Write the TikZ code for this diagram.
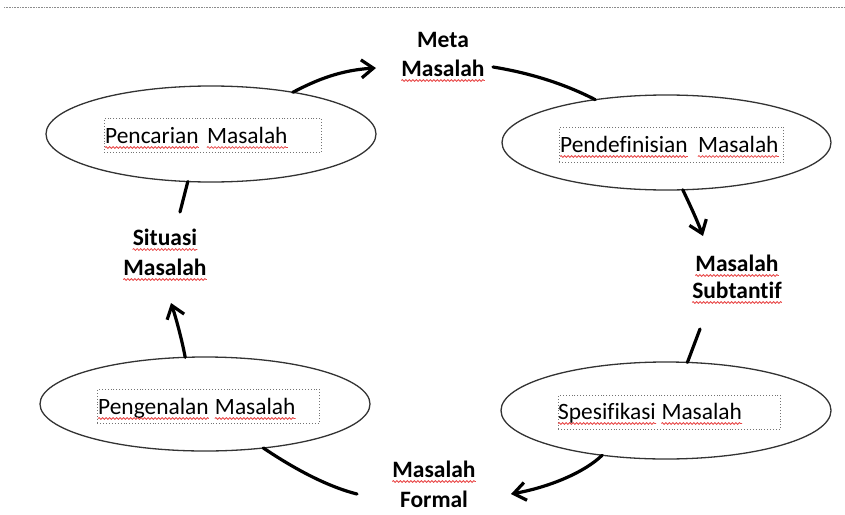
\documentclass[tikz,border=0pt]{standalone}
\usepackage{fontspec}
\setmainfont[Ligatures=NoCommon]{Carlito}
\usetikzlibrary{shapes.geometric,arrows.meta,decorations.pathmorphing}
\definecolor{spellred}{RGB}{232,70,70}
% red wavy spell-check underline below a word node
\newcommand\spellmark[1]{\draw[wave] ([yshift=-4.5pt]#1.base west) -- ([yshift=-4.5pt]#1.base east);}
\begin{document}
\begin{tikzpicture}[x=1pt,y=-1pt,
  bubble/.style={ellipse, draw=black!80, line width=1.3pt, inner sep=0pt, outer sep=0pt},
  tbox/.style={draw=black!55, dotted, line width=0.9pt, inner sep=0pt, anchor=north west},
  body/.style={font=\fontsize{23.4}{28}\selectfont, inner sep=0pt, anchor=base west},
  tag/.style={font=\fontsize{23.5}{29}\selectfont\bfseries, inner sep=0pt, anchor=base},
  rule/.style={draw=black!45, line width=1.2pt, dash pattern=on 0.8pt off 0.8pt},
  wave/.style={draw=spellred, line width=0.8pt, decorate,
    decoration={snake, segment length=3.5pt, amplitude=0.9pt}},
  flow/.style={line width=3.2pt, line cap=round},
  tip/.style={flow, -{Straight Barb[length=12pt,width=18pt]}},
]
\useasboundingbox (0,0) rectangle (845,514);

% dotted rule along the top
\coordinate (r0) at (4,7.5);
\coordinate (r1) at (845,7.5);
\draw[rule] (r0) -- (r1);

% the four stages
\node[bubble, minimum width=330pt, minimum height=96pt] (e1) at (211,134) {};
\node[bubble, minimum width=329pt, minimum height=95pt] (e2) at (666.5,142.5) {};
\node[bubble, minimum width=330pt, minimum height=94pt] (e3) at (205,404) {};
\node[bubble, minimum width=330pt, minimum height=97pt] (e4) at (666,410.5) {};

% text frames
\node[tbox, minimum width=217pt, minimum height=34pt] (b1) at (104,118) {};
\node[tbox, minimum width=224pt, minimum height=35pt] (b2) at (559,127) {};
\node[tbox, minimum width=222pt, minimum height=34pt] (b3) at (97,389) {};
\node[tbox, minimum width=222pt, minimum height=34pt] (b4) at (558,395) {};

% stage names, one node per word
\node[body] (p1a) at (105,143) {Pencarian};
\node[body] (p1b) at ([xshift=8pt]p1a.base east) {Masalah};
\node[body] (p2a) at (560,152) {Pendefinisian};
\node[body] (p2b) at ([xshift=10pt]p2a.base east) {Masalah};
\node[body] (p3a) at (98,414) {Pengenalan};
\node[body] (p3b) at ([xshift=6pt]p3a.base east) {Masalah};
\node[body] (p4a) at (558,419) {Spesifikasi};
\node[body] (p4b) at ([xshift=5.2pt]p4a.base east) {Masalah};

% labels between the stages
\node[tag] (m1a) at (443,47) {Meta};
\node[tag] (m1b) at (443,76) {Masalah};
\node[tag] (m2a) at (737,271) {Masalah};
\node[tag] (m2b) at (737,298) {Subtantif};
\node[tag] (m3a) at (434,477) {Masalah};
\node[tag] (m3b) at (434,507) {Formal};
\node[tag] (m4a) at (165,245) {Situasi};
\node[tag] (m4b) at (165,275) {Masalah};

% spell-check marks
\foreach \w in {p1a,p1b,p2a,p2b,p3a,p3b,p4a,p4b,m1b,m2a,m2b,m3a,m4a,m4b}{\spellmark{\w}}

% free ends of the connectors
\coordinate (t1) at (376,68);
\coordinate (c2) at (493,67);
\coordinate (t3) at (703,236);
\coordinate (c4) at (700,329);
\coordinate (t5) at (511,494);
\coordinate (c6) at (357,494);
\coordinate (t7) at (171,303);
\coordinate (c8) at (180,212);

% connectors
\draw[tip] (e1.27) .. controls (318,79) and (342,70) .. (t1);
\draw[flow] (c2) .. controls (530,73) and (565,84) .. (e2.149);
\draw[tip] (e2.-71) .. controls (690,205) and (697,220) .. (t3);
\draw[flow] (c4) -- (e4.66.6);
\draw[tip] (e4.215) .. controls (585,472) and (550,487) .. (t5);
\draw[flow] (e3.-37) .. controls (290,466) and (325,486) .. (c6);
\draw[tip] (e3.113.5) .. controls (182,340) and (176,318) .. (t7);
\draw[flow] (c8) -- (e1.244);
\end{tikzpicture}
\end{document}
